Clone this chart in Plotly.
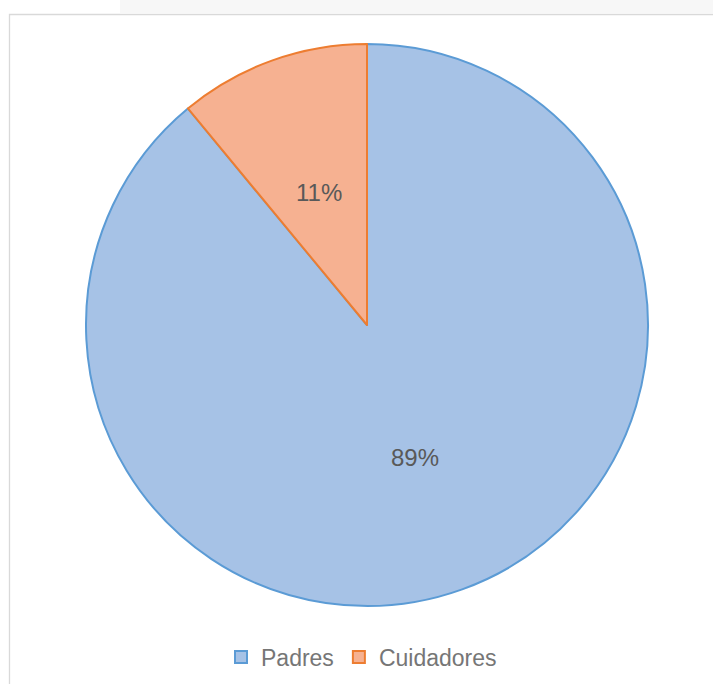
import math
import plotly.graph_objects as go

labels = ["Padres", "Cuidadores"]
values = [89, 11]
fill_colors = ["#a6c2e6", "#f6b191"]
line_colors = ["#5b9bd5", "#ed7d31"]

W, H = 713, 684
cx, cy, r = 367, 325, 281
FONT = "Liberation Sans, Arial, sans-serif"
LABEL_GRAY = "#595959"
LEGEND_GRAY = "#767676"

fig = go.Figure(
    go.Pie(
        labels=labels,
        values=values,
        sort=False,
        direction="clockwise",
        rotation=0,
        marker=dict(colors=fill_colors, line=dict(color=line_colors, width=2)),
        textinfo="none",
        domain=dict(x=[(cx - r) / W, (cx + r) / W], y=[1 - (cy + r) / H, 1 - (cy - r) / H]),
        hoverinfo="label+percent",
    )
)

# percentage labels placed halfway out along each slice's mid-angle
total = sum(values)
start = 0.0
for lab, v in zip(labels, values):
    frac = v / total
    mid = (start + frac / 2) * 2 * math.pi
    start += frac
    px = cx + 0.5 * r * math.sin(mid)
    py = cy - 0.5 * r * math.cos(mid)
    fig.add_annotation(
        x=px / W, y=1 - py / H, xref="paper", yref="paper",
        text=f"{round(frac * 100)}%", showarrow=False,
        xanchor="center", yanchor="middle",
        font=dict(family=FONT, size=24, color=LABEL_GRAY),
    )

# chart frame
fig.add_shape(type="rect", xref="paper", yref="paper",
              x0=9.5 / W, x1=1.05, y0=-0.05, y1=1 - 14.5 / H,
              line=dict(color="#d9d9d9", width=1.3), fillcolor="rgba(0,0,0,0)", layer="below")
# faint band above the frame
fig.add_shape(type="rect", xref="paper", yref="paper",
              x0=120 / W, x1=1.0, y0=1 - 13 / H, y1=1.0,
              line=dict(width=0), fillcolor="#f7f7f7", layer="below")

fig.update_layout(
    width=W, height=H,
    margin=dict(l=0, r=0, t=0, b=0),
    paper_bgcolor="white",
    plot_bgcolor="white",
    showlegend=True,
    legend=dict(orientation="h", x=221 / W, xanchor="left", y=1 - 657 / H, yanchor="middle",
                font=dict(family=FONT, size=23, color=LEGEND_GRAY),
                traceorder="normal", bgcolor="rgba(0,0,0,0)"),
)

fig.write_html("out.html")
